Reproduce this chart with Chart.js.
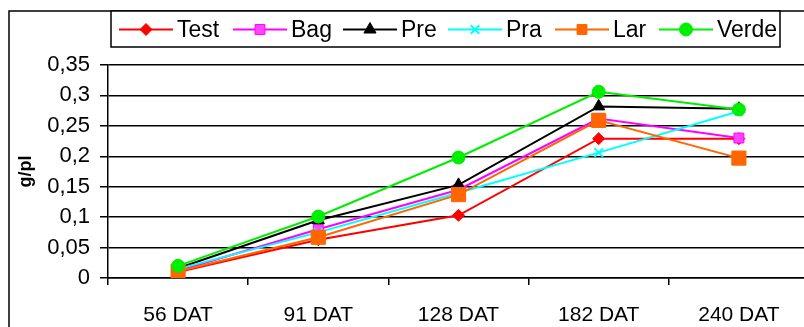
<!DOCTYPE html>
<html>
<head>
<meta charset="utf-8">
<script src="https://cdn.jsdelivr.net/npm/chart.js@4/dist/chart.umd.min.js"></script>
<style>
  html, body { margin: 0; padding: 0; background: #fff; overflow: hidden; }
  #wrap { width: 820px; height: 327px; }
</style>
</head>
<body>
<div id="wrap"><canvas id="c" width="820" height="327"></canvas></div>
<script>
// Sampling dates and dry mass per plant (g/pl) for each treatment
const categories = ['56 DAT', '91 DAT', '128 DAT', '182 DAT', '240 DAT'];
const test  = [0.010, 0.063, 0.103, 0.229, 0.229];
const bag   = [0.012, 0.080, 0.145, 0.262, 0.230];
const pre   = [0.016, 0.095, 0.153, 0.282, 0.278];
const pra   = [0.015, 0.075, 0.140, 0.206, 0.274];
const lar   = [0.011, 0.067, 0.137, 0.259, 0.197];
const verde = [0.020, 0.101, 0.198, 0.306, 0.277];
const yTicks = [0, 0.05, 0.1, 0.15, 0.2, 0.25, 0.3, 0.35];

const FONT = '"Liberation Sans", Arial, Helvetica, sans-serif';

// Left edge of each legend entry's line sample
const legendX = [119, 233, 343, 448, 555, 659];

function series(label, data, color, style, radius, fill, order) {
  return {
    label, data, order,
    borderColor: color,
    borderWidth: 2,
    pointStyle: style,
    pointRadius: radius,
    pointBackgroundColor: fill,
    pointBorderColor: color,
    pointBorderWidth: style === 'crossRot' ? 2 : 1,
    tension: 0,
    fill: false
  };
}

const datasets = [
  series('Test',  test,  '#ff0000', 'rectRot',  6,   '#ff0000', 6),
  series('Bag',   bag,   '#ff00ff', 'rect',     7,   '#ff44ff', 5),
  series('Pre',   pre,   '#000000', 'triangle', 7,   '#000000', 4),
  series('Pra',   pra,   '#00ffff', 'crossRot', 6,   '#00ffff', 3),
  series('Lar',   lar,   '#ff6600', 'rect',     10,  '#ff6600', 2),
  series('Verde', verde, '#00ee00', 'circle',   6.5, '#00ee00', 1)
];

// White page, outer frame and boxed legend with line + marker samples
const framePlugin = {
  id: 'frame',
  beforeDraw(chart) {
    const ctx = chart.ctx;
    ctx.save();
    ctx.fillStyle = '#fff';
    ctx.fillRect(0, 0, chart.width, chart.height);
    ctx.strokeStyle = '#000';
    ctx.lineWidth = 1.5;
    ctx.beginPath();
    ctx.moveTo(9, chart.height + 2);
    ctx.lineTo(9, 11);
    ctx.lineTo(chart.width + 2, 11);
    ctx.stroke();
    ctx.restore();
  },
  afterDraw(chart) {
    const ctx = chart.ctx;
    ctx.save();
    const box = { x: 111, y: 11, w: 669, h: 36 };
    ctx.fillStyle = '#fff';
    ctx.fillRect(box.x, box.y, box.w, box.h);
    ctx.strokeStyle = '#000';
    ctx.lineWidth = 1.5;
    ctx.strokeRect(box.x, box.y, box.w, box.h);

    ctx.font = '23px ' + FONT;
    ctx.textBaseline = 'middle';
    ctx.textAlign = 'left';
    const cy = 29.5;
    const lineLen = 54;
    chart.data.datasets.forEach((ds, i) => {
      const x = legendX[i];
      ctx.strokeStyle = ds.borderColor;
      ctx.lineWidth = 2;
      ctx.beginPath();
      ctx.moveTo(x, cy);
      ctx.lineTo(x + lineLen, cy);
      ctx.stroke();
      ctx.fillStyle = ds.pointBackgroundColor;
      ctx.strokeStyle = ds.pointBorderColor;
      ctx.lineWidth = ds.pointBorderWidth;
      Chart.helpers.drawPoint(ctx, {
        pointStyle: ds.pointStyle,
        radius: Math.min(ds.pointRadius, 7),
        rotation: 0,
        borderWidth: ds.pointBorderWidth
      }, x + lineLen / 2, cy);
      ctx.fillStyle = '#000';
      ctx.fillText(ds.label, x + lineLen + 4, cy + 1.5);
    });
    ctx.restore();
  }
};

new Chart(document.getElementById('c'), {
  type: 'line',
  data: { labels: categories, datasets },
  plugins: [framePlugin],
  options: {
    responsive: false,
    animation: false,
    devicePixelRatio: 1,
    layout: { padding: { left: 0, top: 65, right: 7, bottom: 0 } },
    plugins: { legend: { display: false }, tooltip: { enabled: false } },
    scales: {
      x: {
        type: 'category',
        offset: true,
        afterFit(s) { s.height = 49; },
        grid: {
          offset: true,
          drawOnChartArea: false,
          drawTicks: true,
          tickLength: 7,
          color: '#000',
          lineWidth: 1.5
        },
        border: { display: true, color: '#000', width: 1.5 },
        ticks: {
          color: '#000',
          font: { family: FONT, size: 21 },
          padding: 18,
          autoSkip: false,
          maxRotation: 0
        }
      },
      y: {
        min: 0,
        max: 0.35,
        afterFit(s) { s.width = 108; },
        afterBuildTicks(s) { s.ticks = yTicks.map(v => ({ value: v })); },
        grid: {
          color: '#000',
          lineWidth: 1.5,
          drawTicks: true,
          tickLength: 8
        },
        border: { display: true, color: '#000', width: 1.5 },
        ticks: {
          color: '#000',
          font: { family: FONT, size: 22 },
          padding: 10,
          callback: v => String(Number(v.toFixed(2))).replace('.', ',')
        },
        title: {
          display: true,
          text: 'g/pl',
          color: '#000',
          font: { family: FONT, size: 18, weight: 'bold' },
          padding: { top: 15, bottom: 0 }
        }
      }
    }
  }
});
</script>
</body>
</html>
